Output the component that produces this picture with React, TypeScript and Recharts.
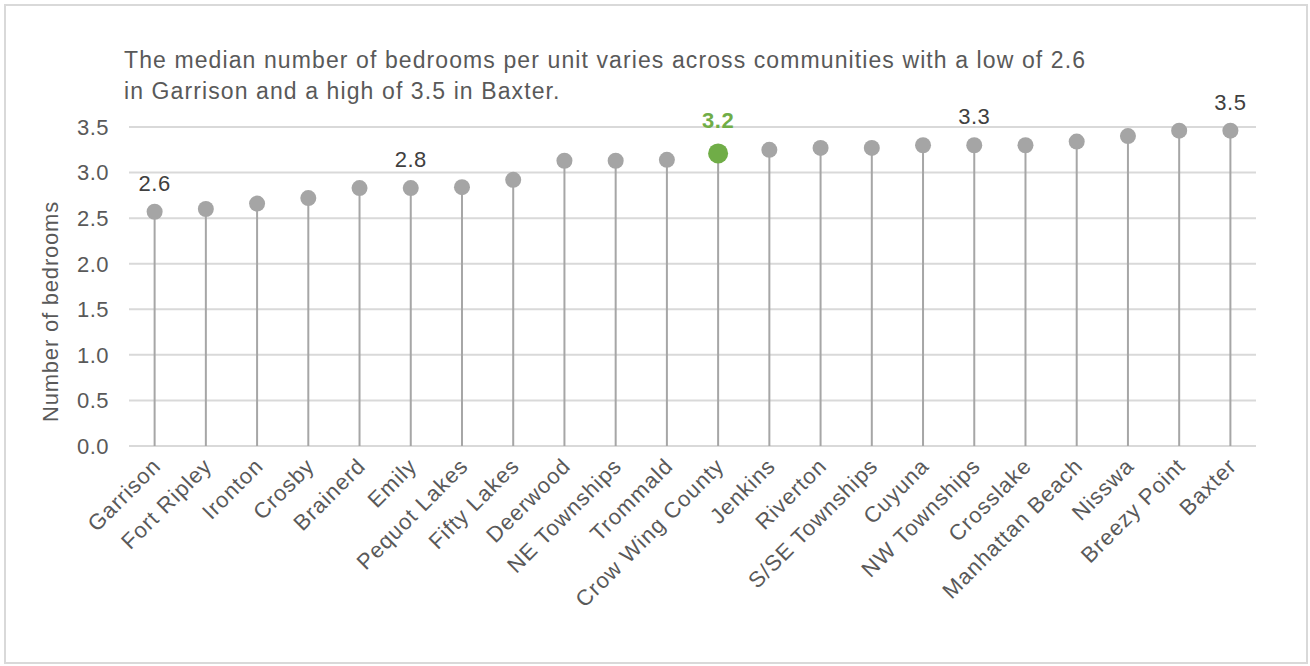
import { Bar, CartesianGrid, ComposedChart, LabelList, XAxis, YAxis } from "recharts";

const categories = [
  "Garrison",
  "Fort Ripley",
  "Ironton",
  "Crosby",
  "Brainerd",
  "Emily",
  "Pequot Lakes",
  "Fifty Lakes",
  "Deerwood",
  "NE Townships",
  "Trommald",
  "Crow Wing County",
  "Jenkins",
  "Riverton",
  "S/SE Townships",
  "Cuyuna",
  "NW Townships",
  "Crosslake",
  "Manhattan Beach",
  "Nisswa",
  "Breezy Point",
  "Baxter",
];

const bedrooms = [
  2.57, 2.6, 2.66, 2.72, 2.83, 2.83, 2.84, 2.92, 3.13, 3.13, 3.14, 3.21, 3.25, 3.27,
  3.27, 3.3, 3.3, 3.3, 3.34, 3.4, 3.46, 3.46,
];

const labelledCategories = ["Garrison", "Emily", "Crow Wing County", "NW Townships", "Baxter"];
const highlightCategory = "Crow Wing County";
const yTicks = [0, 0.5, 1, 1.5, 2, 2.5, 3, 3.5];

const titleLines = [
  "The median number of bedrooms per unit varies across communities with a low of 2.6",
  "in Garrison and a high of 3.5 in Baxter.",
];

const GRAY = "#a5a5a5";
const GREEN = "#70ad47";
const TEXT = "#595959";
const FONT = "'Liberation Sans', Arial, sans-serif";

const data = categories.map((name, i) => ({ name, value: bedrooms[i] }));

function Lollipop(props: any) {
  const { x, y, width, height, payload } = props;
  const cx = x + width / 2;
  const hi = payload?.name === highlightCategory;
  return (
    <g>
      <line x1={cx} x2={cx} y1={y + height} y2={y} stroke="#a6a6a6" strokeWidth={2} />
      <circle cx={cx} cy={y} r={hi ? 10 : 8} fill={hi ? GREEN : GRAY} />
    </g>
  );
}

function ValueLabel(props: any) {
  const { x, y, width, index, value } = props;
  const name = categories[index];
  if (!labelledCategories.includes(name)) return null;
  const hi = name === highlightCategory;
  return (
    <text
      x={x + width / 2}
      y={y - (hi ? 25 : 21)}
      textAnchor="middle"
      fontFamily={FONT}
      fontSize={22}
      letterSpacing={0.5}
      fontWeight={hi ? 700 : 400}
      fill={hi ? GREEN : "#404040"}
    >
      {Number(value).toFixed(1)}
    </text>
  );
}

function CategoryTick(props: any) {
  const { x, y, payload } = props;
  return (
    <g transform={`translate(${x + 2},${y + 8})`}>
      <text
        x={0}
        y={0}
        dy="0.35em"
        textAnchor="end"
        transform="rotate(-45)"
        fontFamily={FONT}
        fontSize={22}
        letterSpacing={1}
        fill={TEXT}
      >
        {payload.value}
      </text>
    </g>
  );
}

function AxisTitle(props: any) {
  const { viewBox } = props;
  const cx = viewBox.x + 31;
  const cy = viewBox.y + viewBox.height / 2 + 25;
  return (
    <text
      x={cx}
      y={cy}
      transform={`rotate(-90, ${cx}, ${cy})`}
      textAnchor="middle"
      dominantBaseline="central"
      fontFamily={FONT}
      fontSize={22}
      letterSpacing={0.8}
      fill={TEXT}
    >
      Number of bedrooms
    </text>
  );
}

export default function App() {
  return (
    <div style={{ position: "absolute", left: 0, top: 0, width: 1310, height: 666, background: "#fff" }}>
      <div
        style={{
          position: "absolute",
          left: 4,
          top: 4,
          width: 1300,
          height: 656,
          border: "2px solid #d9d9d9",
        }}
      />
      <div
        style={{
          position: "absolute",
          left: 124,
          top: 45,
          fontFamily: FONT,
          fontSize: 23,
          letterSpacing: 1.1,
          lineHeight: "31px",
          color: TEXT,
          whiteSpace: "nowrap",
        }}
      >
        {titleLines.map((line) => (
          <div key={line}>{line}</div>
        ))}
      </div>
      <div style={{ position: "absolute", left: 0, top: 0 }}>
        <ComposedChart
          width={1310}
          height={666}
          data={data}
          margin={{ top: 127, right: 54, bottom: 20, left: 19 }}
        >
          <CartesianGrid vertical={false} stroke="#d9d9d9" strokeWidth={2} />
          <XAxis
            dataKey="name"
            interval={0}
            height={200}
            axisLine={false}
            tickLine={false}
            tick={<CategoryTick />}
          />
          <YAxis
            width={110}
            domain={[0, 3.5]}
            ticks={yTicks}
            axisLine={false}
            tickLine={false}
            tickMargin={14}
            tickFormatter={(v: number) => v.toFixed(1)}
            tick={{ fill: TEXT, fontSize: 22, fontFamily: FONT, letterSpacing: 0.5 }}
            label={<AxisTitle />}
          />
          <Bar dataKey="value" shape={<Lollipop />} isAnimationActive={false}>
            <LabelList dataKey="value" content={<ValueLabel />} />
          </Bar>
        </ComposedChart>
      </div>
    </div>
  );
}
